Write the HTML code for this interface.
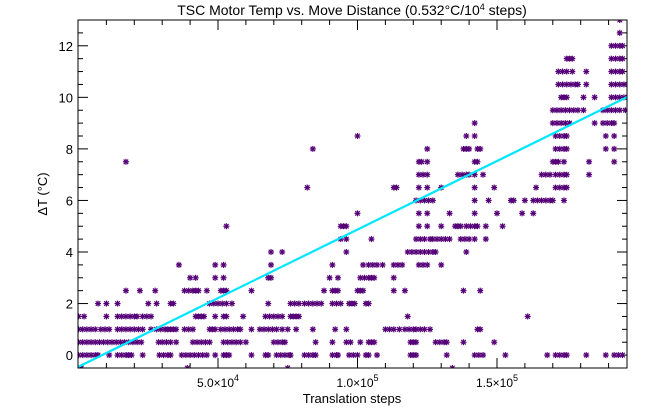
<!DOCTYPE html>
<html><head><meta charset="utf-8">
<style>
html,body{margin:0;padding:0;background:#fff;}
svg{display:block;font-family:"Liberation Sans",sans-serif;}
</style></head>
<body>
<svg id="chart" width="648" height="408" viewBox="0 0 648 408" xmlns="http://www.w3.org/2000/svg">
<defs><clipPath id="clip"><rect x="78" y="20" width="549" height="348"/></clipPath></defs>
<text x="352" y="15" text-anchor="middle" font-size="14" fill="#000">TSC Motor Temp vs. Move Distance (0.532°C/10<tspan dy="-5" font-size="9">4</tspan><tspan dy="5"> steps)</tspan></text>
<text x="352" y="403" text-anchor="middle" font-size="13" fill="#000">Translation steps</text>
<text transform="translate(47,194) rotate(-90)" text-anchor="middle" font-size="13" fill="#000">ΔT (°C)</text>
<g id="ticks"></g>
<g id="points" clip-path="url(#clip)"></g>
<g id="fit" clip-path="url(#clip)"></g>
<rect x="78" y="20" width="549" height="348" fill="none" stroke="#000" stroke-width="1"/>
</svg>
<script>
// data: x values in thousands of steps, grouped by temperature level (°C)
const levels = [-0.5,0,0.5,1,1.5,2,2.5,3,3.5,4,4.5,5,5.5,6,6.5,7,7.5,8,8.5,9,9.5,10,10.5,11,11.5,12,12.5,13];
const xsByLevel = [
 [1,39,75,134],
 [0,1.5,3,4.5,6,7,11,14,15.5,17,18,19,23,29,30.5,32,33,37,38.5,40,41.5,43,44.5,46,49,52,53,54,62,67,68,71,72.5,74,75.5,76,81,82.5,84,85,91,92.5,93,97,98.5,100,103,104,107,119,120,121,132,142,143.5,145,153,168,171,172.5,174,175,182,189,192,193.5,195],
 [0,1.5,3,4.5,6,7.5,9,10.5,12,13.5,15,16.5,18,19.5,21,22.5,28.7,30,31.5,33,35,41,42.5,44,45.5,47,52,53.5,55,56.5,58,60,70,71.5,73,74,85,91,96,97.5,101,104,105,106,119,120,121,128,129.5,131,132,138,149],
 [0,1.5,3,4.5,6,8,9.5,11,14,15.5,17,18.5,20,21.5,23,26,28,29.5,31,32,33,34,35,38,39.5,41,47,48,49,51,52.5,54,55.5,57,58,62,65,66.5,68,69.5,71,73,75,78,84,92,96,110,111.5,113,115,117,118.5,120,121,122.5,124,126,143,144],
 [0,2,10,14,15.5,17,18.5,20,21,23,24.5,26,42,43,44,45,49,52,53,59,67,68.5,70,71.5,73,76,77,78,79,118,161],
 [7,10,14,25,28,33,34,47,48.5,50,51.5,53,55,68,76,77.5,79,81,82.5,84,85.5,87,91,92.5,94,97,98,99,103,104],
 [17,22,27.5,38,39.5,41,42,43,46,51,52,53,62,88,91,92,93,100,101,102,113,117,138,144],
 [40,42,49,52,68,69,90,93,101,102.5,104,105,106,113],
 [36,49,52,69,91,102,104,105.5,107,109,113,114.5,116,122,123.5,125,130],
 [69,73,96,118,119.5,121,122.5,124,125.5,127,128,139],
 [94,96,105,121,122.5,124,126,127,128.5,130,131.5,133,137,138.5,140,142,146],
 [53,94,95,96,122,125,130,135,136,137,139,140.5,142,143,146,152],
 [100,122,125,133,142,150,159,163],
 [121,122.5,124,125.5,127,142,147,155,156,160,163,164.5,166,167.5,169,170,174],
 [82,113,114,122,125,130,142,149,164,171,172.5,174,175],
 [122,123.5,125,136,137.5,139,140,142,145,166,167.5,169,171,172.5,174,175,183],
 [17,122,123,125,142,143,170,171,172,174,183,192],
 [84,125,138,139,140,143,144,171,172.5,174,175,189,192],
 [100,139,142,171,172.5,174,175,189,192],
 [142,170,171.5,173,174.5,176,185,188,189.5,191,192],
 [170,171.5,173,174.5,176,177.5,179,181,188,189.5,191,192.5,194,196],
 [173,174,175,181,185,191,192.5,194,195.5,197],
 [172,173.5,175,176.5,178,179,182,191,192.5,194,195.5,197],
 [172,173.5,175,177,182,191,192.5,194,195],
 [175,176,177,191,192.5,194,195],
 [191,192.5,194,195],
 [194],
 [194]
];
const fitSlope = 0.532;      // °C per 10^4 steps
const fitIntercept = -0.45;  // °C
const yTickLabels = ["0","2","4","6","8","10","12"];
const yTickValues = [0,2,4,6,8,10,12];
const xTickValues = [50,100,150];           // thousands of steps
const xTickMant = ["5.0","1.0","1.5"];
const xTickExp = ["4","5","5"];

const NS="http://www.w3.org/2000/svg";
const X0=78.5, X1=627, Y0=368, Y1=20, XMIN=0, XMAX=196.6, YMIN=-0.5, YMAX=13.0;
function sx(k){return X0+(k-XMIN)/(XMAX-XMIN)*(X1-X0);}
function sy(v){return Y0-(v-YMIN)/(YMAX-YMIN)*(Y0-Y1);}
function mk(tag,attrs,parent){const e=document.createElementNS(NS,tag);for(const k in attrs)e.setAttribute(k,attrs[k]);parent.appendChild(e);return e;}

const tg=document.getElementById('ticks');
for(let v=-0.5; v<=13.001; v+=0.5){
  const major=Math.abs(v%2)<1e-6, L=major?10:5, y=sy(v);
  const a=mk('line',{x1:78,y1:y,x2:78+L,y2:y,stroke:'#000','stroke-width':1},tg);
  
  
  const b=mk('line',{x1:627-L,y1:y,x2:627,y2:y,stroke:'#000','stroke-width':1},tg);
  
  
}
yTickLabels.forEach((t,i)=>{
  const e=mk('text',{x:73,y:sy(yTickValues[i])+5,'text-anchor':'end','font-size':13,fill:'#000'},tg);
  e.textContent=t;
  
  
});
for(let k=10;k<XMAX;k+=10){
  const major=(k%50===0), L=major?10:5, x=sx(k);
  const a=mk('line',{x1:x,y1:368,x2:x,y2:368-L,stroke:'#000','stroke-width':1},tg);
  
  
  const b=mk('line',{x1:x,y1:20,x2:x,y2:20+L,stroke:'#000','stroke-width':1},tg);
  
  
}
xTickValues.forEach((k,i)=>{
  const e=mk('text',{x:sx(k),y:387,'text-anchor':'middle','font-size':12,fill:'#000'},tg);
  
  
  e.appendChild(document.createTextNode(xTickMant[i]+"×10"));
  const s=document.createElementNS(NS,'tspan');s.setAttribute('dy','-6');s.setAttribute('font-size','9');s.textContent=xTickExp[i];e.appendChild(s);
});
const pg=document.getElementById('points');
const C='#550077';
levels.forEach((lv,i)=>{
  xsByLevel[i].forEach(k=>{
    const x=sx(k), y=sy(lv), r=3.0;
    const g=mk('g',{stroke:C,'stroke-width':1.2},pg);
    
    
    mk('line',{x1:x-r,y1:y,x2:x+r,y2:y},g);
    mk('line',{x1:x,y1:y-r,x2:x,y2:y+r},g);
    mk('line',{x1:x-r*0.75,y1:y-r*0.75,x2:x+r*0.75,y2:y+r*0.75},g);
    mk('line',{x1:x-r*0.75,y1:y+r*0.75,x2:x+r*0.75,y2:y-r*0.75},g);
  });
});
const fg=document.getElementById('fit');
const fl=mk('line',{x1:sx(XMIN),y1:sy(fitIntercept+fitSlope*XMIN/10),x2:sx(XMAX),y2:sy(fitIntercept+fitSlope*XMAX/10),stroke:'#00e6ff','stroke-width':2.2},fg);


</script>
</body></html>
